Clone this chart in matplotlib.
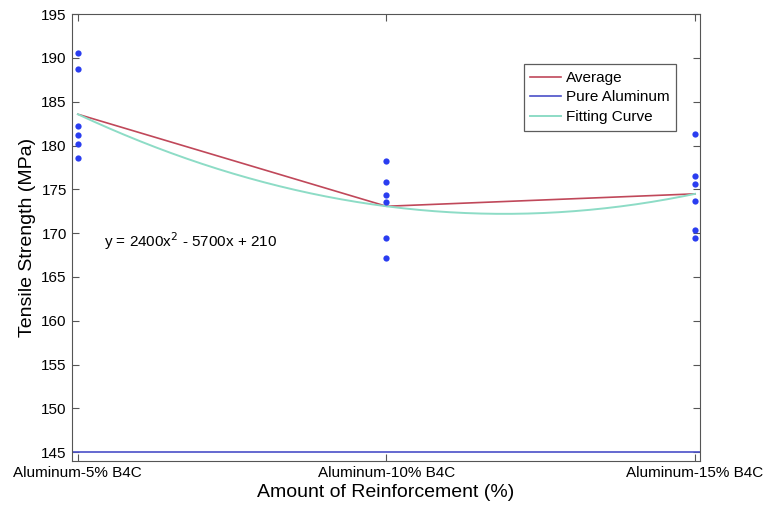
import numpy as np
import matplotlib
matplotlib.use("Agg")
import matplotlib.pyplot as plt

plt.rcParams["font.family"] = ["Liberation Sans", "DejaVu Sans"]

# reinforcement fraction and category labels
reinforcement = [0.05, 0.10, 0.15]
categories = ["Aluminum-5% B4C", "Aluminum-10% B4C", "Aluminum-15% B4C"]

# individual tensile tests (MPa)
tests_5 = [190.5, 188.7, 182.2, 181.2, 180.2, 178.6]
tests_10 = [178.2, 175.8, 174.3, 173.5, 169.4, 167.2]
tests_15 = [181.3, 176.5, 175.6, 173.7, 170.4, 169.4]
pure_aluminum = 145.0

OUT = "out.png"


def main():
    tests = [tests_5, tests_10, tests_15]
    averages = [np.mean(t) for t in tests]

    # quadratic fit through all the tests
    xs = np.repeat(reinforcement, [len(t) for t in tests])
    ys = np.concatenate(tests)
    coef = np.polyfit(xs, ys, 2)
    xfit = np.linspace(reinforcement[0], reinforcement[-1], 200)
    yfit = np.polyval(coef, xfit)

    fig = plt.figure(figsize=(7.64, 5.05), dpi=100)
    ax = fig.add_axes([0.0938, 0.0871, 0.8224, 0.8851])

    ax.plot(reinforcement, averages, color="#c0485a", lw=1.2, label="Average")
    ax.axhline(pure_aluminum, color="#4a4fc8", lw=1.2, label="Pure Aluminum")
    ax.plot(xfit, yfit, color="#8ddcc6", lw=1.4, label="Fitting Curve")

    for x, t in zip(reinforcement, tests):
        ax.plot([x] * len(t), t, "o", color="#2a3df0", ms=4.5, mec="none")

    ax.text(0.0543, 169.1, r"y = 2400x$^2$ - 5700x + 210", fontsize=11,
            va="center", ha="left")

    ax.set_xlim(0.049, 0.1508)
    ax.set_ylim(144, 195)
    ax.set_xticks(reinforcement)
    ax.set_xticklabels(categories)
    ax.set_yticks(np.arange(145, 196, 5))
    ax.tick_params(direction="in", top=True, right=True, labelsize=11,
                   length=5, color="#555555")
    for s in ax.spines.values():
        s.set_color("#555555")
    ax.set_xlabel("Amount of Reinforcement (%)", fontsize=14, labelpad=3)
    ax.set_ylabel("Tensile Strength (MPa)", fontsize=14, labelpad=4)

    leg = ax.legend(loc="upper right", bbox_to_anchor=(0.962, 0.888),
                    borderaxespad=0, fontsize=11, frameon=True,
                    fancybox=False, handlelength=2.0, borderpad=0.45,
                    labelspacing=0.36, handletextpad=0.3)
    leg.get_frame().set_edgecolor("#333333")
    leg.get_frame().set_linewidth(0.9)

    fig.savefig(OUT, dpi=100)
    plt.close(fig)
    print(f"Chart saved: {OUT}")


if __name__ == "__main__":
    main()
